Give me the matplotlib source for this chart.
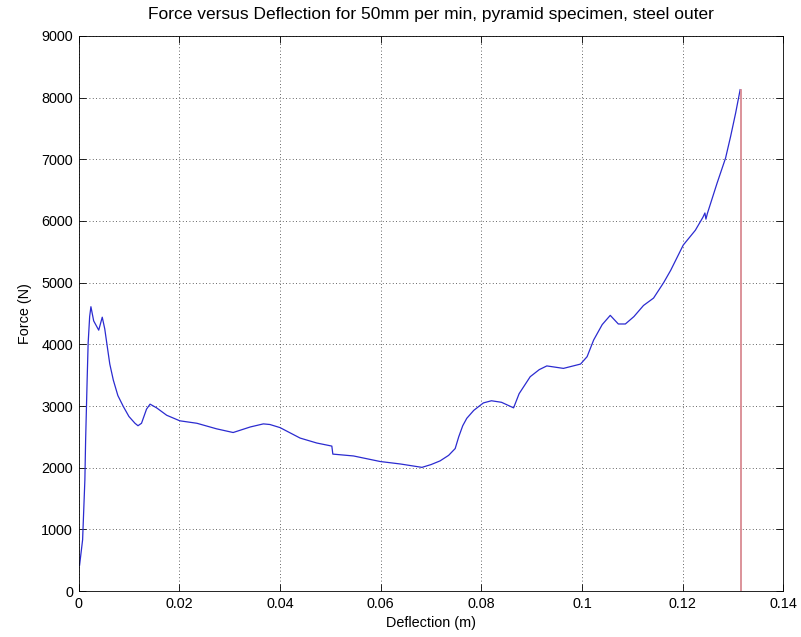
import matplotlib
matplotlib.use("Agg")
from matplotlib import pyplot as plt

# deflection (m) / force (N)
defl = [0.0002, 0.0008, 0.00125, 0.0014, 0.0017, 0.0019, 0.0022, 0.00245, 0.0030, 0.0040,
        0.0047, 0.0052, 0.0056, 0.0062, 0.0069, 0.0078, 0.0089, 0.0100, 0.0112, 0.0118,
        0.0125, 0.0135, 0.0142, 0.0155, 0.0175, 0.0201, 0.0235, 0.0274, 0.0307, 0.0341,
        0.0367, 0.0380, 0.0400, 0.0440, 0.0473, 0.0503, 0.0505, 0.0546, 0.0599, 0.0639,
        0.0682, 0.0700, 0.0718, 0.0735, 0.0748, 0.0755, 0.0763, 0.0771, 0.0785, 0.0804,
        0.0820, 0.0840, 0.0864, 0.0875, 0.0897, 0.0915, 0.0930, 0.0963, 0.0997, 0.1010,
        0.1023, 0.1040, 0.1056, 0.1072, 0.1086, 0.1103, 0.1122, 0.1142, 0.1162, 0.1176,
        0.1201, 0.1225, 0.1240, 0.1244, 0.1246, 0.1249, 0.1268, 0.1285, 0.1295, 0.1305,
        0.1314]
force = [420, 830, 1800, 2450, 3420, 4020, 4450, 4610, 4380, 4230,
         4440, 4250, 4020, 3680, 3420, 3170, 2990, 2830, 2720, 2680,
         2720, 2950, 3030, 2970, 2850, 2760, 2720, 2630, 2570, 2660,
         2710, 2700, 2650, 2480, 2400, 2350, 2220, 2190, 2100, 2060,
         2005, 2050, 2110, 2200, 2310, 2500, 2680, 2800, 2930, 3050,
         3085, 3060, 2970, 3200, 3475, 3590, 3650, 3610, 3680, 3800,
         4070, 4320, 4470, 4330, 4330, 4450, 4630, 4750, 5000, 5200,
         5610, 5850, 6060, 6130, 6030, 6125, 6610, 7020, 7370, 7750,
         8130]

# failure marker (red vertical line)
fail_x = [0.1315, 0.1315]
fail_y = [0, 8130]

xticks = [0, 0.02, 0.04, 0.06, 0.08, 0.1, 0.12, 0.14]
xticklabels = ["0", "0.02", "0.04", "0.06", "0.08", "0.1", "0.12", "0.14"]
yticks = list(range(0, 9001, 1000))

plt.rcParams['font.family'] = ['Liberation Sans', 'DejaVu Sans']
plt.rcParams['font.size'] = 10.4

fig = plt.figure(figsize=(8.01, 6.37), dpi=100)
ax = fig.add_axes([0.0981, 0.0722, 0.880, 0.8713])

ax.plot(defl, force, color='#2b2bd0', lw=0.9)
ax.plot(fail_x, fail_y, color='#d98a92', lw=1.3)

ax.set_xlim(0, 0.14)
ax.set_ylim(0, 9000)
ax.set_xticks(xticks)
ax.set_xticklabels(xticklabels)
ax.set_yticks(yticks)
ax.grid(True, linestyle=(0, (1, 3)), color='#333333', lw=0.6)
ax.tick_params(direction='in', top=True, right=True, length=5, width=0.6, pad=4)
for s in ax.spines.values():
    s.set_linewidth(0.6)

ax.set_title("Force versus Deflection for 50mm per min, pyramid specimen, steel outer", pad=12)
ax.set_xlabel("Deflection (m)", labelpad=4)
ax.set_ylabel("Force (N)", labelpad=7)

fig.savefig("out.png", dpi=100)
